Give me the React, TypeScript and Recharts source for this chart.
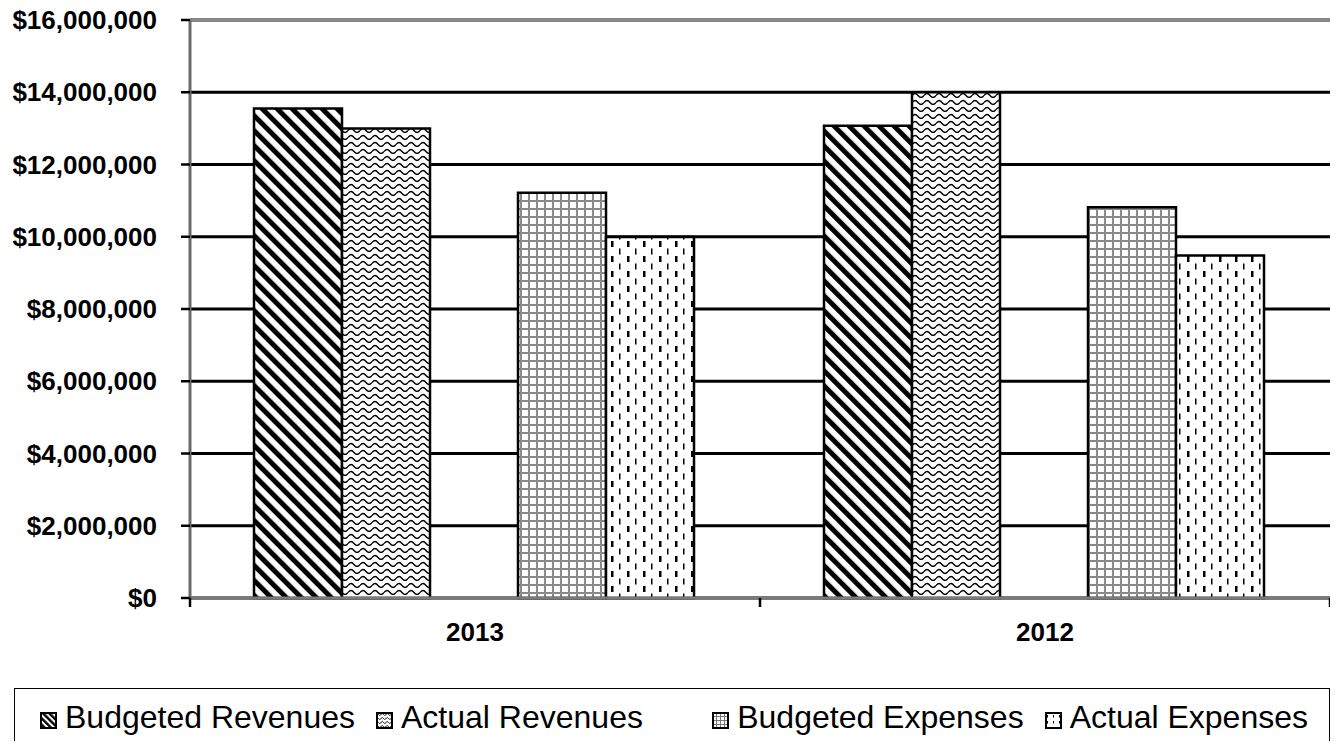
import React from 'react';
import { BarChart, Bar, XAxis, YAxis, CartesianGrid, ReferenceLine, Legend } from 'recharts';

const categories = ['2013', '2012'];
const budgetedRevenues = [13550000, 13070000];
const actualRevenues = [13000000, 14000000];
const budgetedExpenses = [11220000, 10820000];
const actualExpenses = [9990000, 9480000];
const yTicks = [0, 2000000, 4000000, 6000000, 8000000, 10000000, 12000000, 14000000, 16000000];

const data = categories.map((year, i) => ({
  year,
  budRev: budgetedRevenues[i],
  actRev: actualRevenues[i],
  spacer: null,
  budExp: budgetedExpenses[i],
  actExp: actualExpenses[i],
}));

const FONT = '"Liberation Sans", Arial, sans-serif';
const TICK_MARGIN = 25;

const legendItems = [
  { name: 'Budgeted Revenues', fill: 'url(#lg-diag)' },
  { name: 'Actual Revenues', fill: 'url(#lg-wave)' },
  { name: '', fill: null },
  { name: 'Budgeted Expenses', fill: 'url(#lg-grid)' },
  { name: 'Actual Expenses', fill: 'url(#lg-dash)' },
];

const Patterns = () => (
  <defs>
    <pattern id="p-diag" width="10.6" height="10.6" patternUnits="userSpaceOnUse" patternTransform="rotate(-45)">
      <rect width="10.6" height="10.6" fill="#fff" />
      <rect x="0" y="0" width="5" height="10.6" fill="#000" />
    </pattern>
    <pattern id="p-wave" width="12" height="7" patternUnits="userSpaceOnUse">
      <rect width="12" height="7" fill="#fff" />
      <path d="M0 4.5 Q3 0.5 6 4.5 T12 4.5" fill="none" stroke="#000" strokeWidth="1.3" />
    </pattern>
    <pattern id="p-grid" width="8" height="8" patternUnits="userSpaceOnUse">
      <rect width="8" height="8" fill="#fff" />
      <path d="M0 1 H8 M1 0 V8" fill="none" stroke="#8a8a8a" strokeWidth="2" />
    </pattern>
    <pattern id="p-dash" width="16" height="15" patternUnits="userSpaceOnUse">
      <rect width="16" height="15" fill="#fff" />
      <rect x="3" y="1" width="2.5" height="6" fill="#000" />
      <rect x="11" y="8.5" width="1.5" height="6" fill="#000" />
    </pattern>
    <pattern id="lg-diag" width="4.5" height="4.5" patternUnits="userSpaceOnUse" patternTransform="rotate(-45)">
      <rect width="4.5" height="4.5" fill="#fff" />
      <rect width="2.4" height="4.5" fill="#000" />
    </pattern>
    <pattern id="lg-wave" width="5" height="4" patternUnits="userSpaceOnUse">
      <rect width="5" height="4" fill="#fff" />
      <path d="M0 2.5 Q1.25 0.5 2.5 2.5 T5 2.5" fill="none" stroke="#000" strokeWidth="0.9" />
    </pattern>
    <pattern id="lg-grid" width="4" height="4" patternUnits="userSpaceOnUse">
      <rect width="4" height="4" fill="#fff" />
      <path d="M0 0.5 H4 M0.5 0 V4" fill="none" stroke="#777" strokeWidth="1" />
    </pattern>
    <pattern id="lg-dash" width="6" height="6" patternUnits="userSpaceOnUse">
      <rect width="6" height="6" fill="#fff" />
      <rect x="2" y="3" width="1" height="2.5" fill="#000" />
    </pattern>
  </defs>
);

// category label plus the small tick marks on the band edges
const YearTick = (props: any) => {
  const { x, y, payload, index, visibleTicksCount } = props;
  const half = payload.offset || 0;
  const axisY = y - TICK_MARGIN;
  const isLast = index === visibleTicksCount - 1;
  return (
    <g>
      <line x1={x - half} x2={x - half} y1={axisY} y2={axisY + 9} stroke="#000" strokeWidth={2.5} />
      {isLast && <line x1={x + half} x2={x + half} y1={axisY} y2={axisY + 9} stroke="#000" strokeWidth={2.5} />}
      <text x={x} y={y} dy="0.71em" textAnchor="middle" fill="#000" fontFamily={FONT} fontWeight="bold" fontSize={26}>
        {payload.value}
      </text>
    </g>
  );
};

const renderLegend = () => (
  <div
    style={{
      boxSizing: 'border-box',
      height: 70,
      border: '1.5px solid #000',
      display: 'flex',
      alignItems: 'flex-start',
      paddingTop: 10,
      paddingLeft: 25,
      fontFamily: FONT,
      fontSize: 32,
      color: '#000',
      background: '#fff',
    }}
  >
    {legendItems.map((it, i) =>
      it.fill ? (
        <div key={i} style={{ display: 'flex', alignItems: 'center', marginRight: 21, whiteSpace: 'nowrap' }}>
          <svg width="17" height="17" style={{ marginRight: 8, marginTop: 5 }}>
            <rect x="1" y="1" width="15" height="15" fill={it.fill} stroke="#000" strokeWidth="2" />
          </svg>
          <span>{it.name}</span>
        </div>
      ) : (
        <div key={i} style={{ width: 53 }} />
      )
    )}
  </div>
);

const fmt = (v: number) => '$' + v.toLocaleString('en-US');

const App = () => {
  return (
    <div style={{ position: 'relative', width: 1338, height: 749, margin: -8, overflow: 'hidden', background: '#fff' }}>
      <svg width="1338" height="40" style={{ position: 'absolute', left: 0, top: 0 }}>
        <text x="496" y="-1" fontFamily={FONT} fontWeight="bold" fontSize="31" fill="#000">
          Operating Budget
        </text>
      </svg>
      <BarChart
        width={1338}
        height={749}
        data={data}
        margin={{ top: 20, right: 8, bottom: 21, left: 0 }}
        barCategoryGap={64}
        barGap={0}
        style={{ position: 'absolute', left: 0, top: 0 }}
      >
        <Patterns />
        <CartesianGrid vertical={false} stroke="#000" strokeWidth={3} />
        <XAxis
          dataKey="year"
          height={60}
          tickLine={false}
          tickSize={0}
          tickMargin={TICK_MARGIN}
          axisLine={{ stroke: '#7a7a7a', strokeWidth: 3 }}
          tick={<YearTick />}
        />
        <YAxis
          width={190}
          domain={[0, 16000000]}
          ticks={yTicks}
          tickFormatter={fmt}
          tickSize={9}
          tickMargin={24}
          interval={0}
          axisLine={{ stroke: '#6a6a6a', strokeWidth: 3 }}
          tickLine={{ stroke: '#000', strokeWidth: 2.5 }}
          tick={{ fill: '#000', fontFamily: FONT, fontWeight: 'bold', fontSize: 26 }}
        />
        <ReferenceLine y={16000000} stroke="#8a8a8a" strokeWidth={3} />
        <Bar dataKey="budRev" name="Budgeted Revenues" fill="url(#p-diag)" stroke="#000" strokeWidth={2.5} isAnimationActive={false} />
        <Bar dataKey="actRev" name="Actual Revenues" fill="url(#p-wave)" stroke="#000" strokeWidth={2.5} isAnimationActive={false} />
        <Bar dataKey="spacer" name="" fill="none" isAnimationActive={false} legendType="none" />
        <Bar dataKey="budExp" name="Budgeted Expenses" fill="url(#p-grid)" stroke="#000" strokeWidth={2.5} isAnimationActive={false} />
        <Bar dataKey="actExp" name="Actual Expenses" fill="url(#p-dash)" stroke="#000" strokeWidth={2.5} isAnimationActive={false} />
        <Legend
          verticalAlign="bottom"
          content={renderLegend}
          wrapperStyle={{ left: 14, top: 688, bottom: 'auto', width: 1316, height: 70 }}
        />
      </BarChart>
    </div>
  );
};

export default App;
